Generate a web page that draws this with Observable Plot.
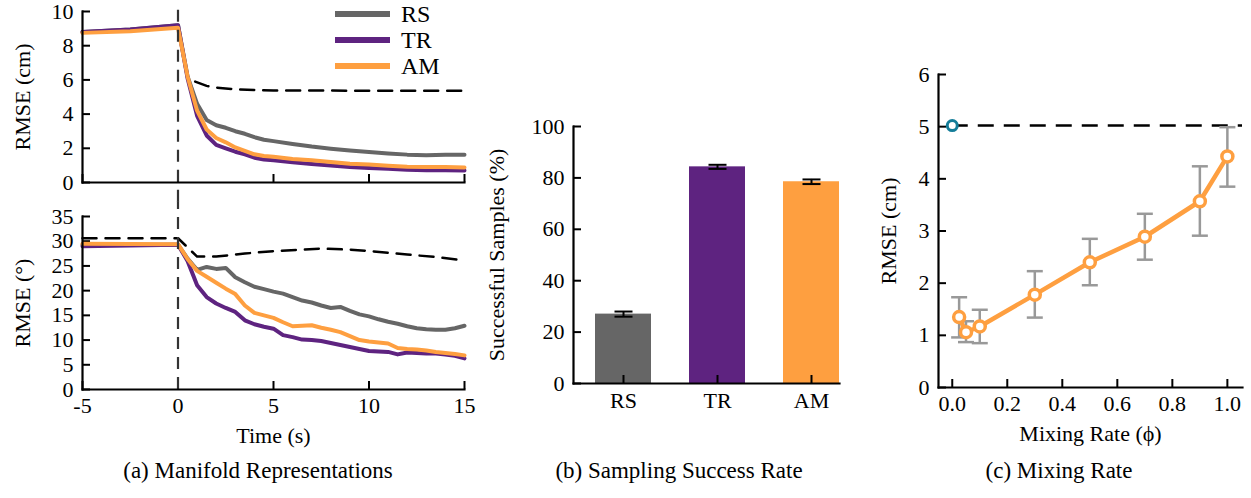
<!DOCTYPE html>
<html><head><meta charset="utf-8">
<script src="https://cdn.jsdelivr.net/npm/d3@7"></script>
<script src="https://cdn.jsdelivr.net/npm/@observablehq/plot@0.6"></script>
<style>
body{margin:0;background:#fff;}
#root{position:relative;width:1251px;height:498px;overflow:hidden;font-family:"Liberation Serif","Times New Roman","DejaVu Serif",serif;color:#000;}
.p{position:absolute;}
.p svg{overflow:visible;}
.p svg text, .p svg{font-family:"Liberation Serif","Times New Roman","DejaVu Serif",serif !important;}
.cap{position:absolute;font-size:23px;line-height:1;transform:translate(-50%,-50%);white-space:nowrap;top:470px;}
.lg{position:absolute;height:6px;width:55px;left:335px;}
.lt{position:absolute;left:401px;font-size:24px;line-height:1;transform:translateY(-50%);}
</style></head><body><div id="root"></div>
<script>
// ---------- Panel (a): manifold representations ----------
const seriesNames = ["RS", "TR", "AM"];
const seriesColors = ["#666666", "#5e2380", "#fe9f40"];

const timeTop = [-5, -2.5, 0, 0.5, 1, 1.5, 2, 2.5, 3, 3.5, 4, 4.5, 5, 6, 7, 8, 9, 10, 11, 12, 13, 14, 15];
const rsTop = [8.8, 8.95, 9.2, 6.2, 4.6, 3.65, 3.35, 3.2, 3.0, 2.85, 2.65, 2.5, 2.42, 2.25, 2.1, 1.98, 1.87, 1.78, 1.7, 1.63, 1.6, 1.62, 1.62];
const trTop = [8.8, 8.95, 9.2, 6.1, 3.9, 2.75, 2.2, 2.0, 1.8, 1.65, 1.45, 1.35, 1.3, 1.18, 1.08, 1.0, 0.9, 0.85, 0.8, 0.74, 0.72, 0.72, 0.7];
const amTop = [8.75, 8.85, 9.05, 6.2, 4.2, 3.1, 2.6, 2.35, 2.05, 1.85, 1.65, 1.55, 1.5, 1.38, 1.3, 1.2, 1.1, 1.05, 0.98, 0.92, 0.9, 0.9, 0.88];
const baseTopTime = [0.9, 1.5, 2, 3, 5, 10, 15];
const baseTopVal = [5.9, 5.65, 5.55, 5.45, 5.38, 5.37, 5.37];

const timeBot = [-5, 0, 0.5, 1, 1.5, 2, 2.5, 3, 3.5, 4, 4.5, 5, 5.5, 6, 6.5, 7, 7.5, 8, 8.5, 9, 9.5, 10, 10.5, 11, 11.5, 12, 12.5, 13, 13.5, 14, 14.5, 15];
const rsBot = [29.3, 29.3, 26.5, 24.2, 24.8, 24.4, 24.6, 22.7, 21.7, 20.8, 20.3, 19.8, 19.4, 18.7, 18.0, 17.6, 17.0, 16.5, 16.7, 15.9, 15.2, 14.8, 14.2, 13.7, 13.3, 12.8, 12.4, 12.2, 12.1, 12.1, 12.4, 12.9];
const trBot = [29.0, 29.3, 26.0, 21.1, 18.7, 17.4, 16.5, 15.7, 14.0, 13.2, 12.7, 12.3, 11.0, 10.6, 10.1, 10.0, 9.8, 9.4, 9.0, 8.6, 8.2, 7.8, 7.7, 7.6, 7.1, 7.5, 7.4, 7.3, 7.3, 7.1, 6.8, 6.3];
const amBot = [29.5, 29.4, 26.4, 24.0, 22.8, 21.6, 20.4, 19.3, 17.0, 15.5, 15.0, 14.5, 13.6, 12.8, 12.9, 13.0, 12.5, 12.1, 11.6, 10.8, 10.0, 9.7, 9.5, 9.3, 8.4, 8.2, 8.1, 7.9, 7.6, 7.4, 7.2, 6.9];
const baseBotTime = [-5, 0, 1, 2, 3.5, 5, 6.5, 7.5, 9, 10, 12, 13.5, 15];
const baseBotVal = [30.6, 30.6, 26.9, 26.9, 27.5, 28.0, 28.3, 28.5, 28.3, 28.0, 27.3, 26.8, 26.1];

const xTicksA = [-5, 0, 5, 10, 15];
const yTicksTop = [0, 2, 4, 6, 8, 10];
const yTicksBot = [0, 5, 10, 15, 20, 25, 30, 35];
const switchTime = [0];

// ---------- Panel (b): sampling success rate ----------
const methods = ["RS", "TR", "AM"];
const successPct = [27.0, 84.3, 78.5];
const successErr = [1.0, 0.8, 0.9];
const yTicksB = [0, 20, 40, 60, 80, 100];

// ---------- Panel (c): mixing rate ----------
const mixPhi = [0.025, 0.05, 0.1, 0.3, 0.5, 0.7, 0.9, 1.0];
const mixRmse = [1.35, 1.06, 1.17, 1.78, 2.40, 2.89, 3.57, 4.43];
const mixLo = [0.96, 0.87, 0.85, 1.34, 1.96, 2.45, 2.91, 3.85];
const mixHi = [1.73, 1.27, 1.49, 2.23, 2.85, 3.33, 4.24, 4.99];
const basePhi = [0];
const baseRmse = [5.02];
const xTicksC = [0, 0.2, 0.4, 0.6, 0.8, 1.0];
const yTicksC = [0, 1, 2, 3, 4, 5, 6];

// ---------- helpers ----------
const FONT = "'Liberation Serif', 'Times New Roman', 'DejaVu Serif', serif";
const root = document.getElementById("root");
function place(svg, left, top) {
  const d = document.createElement("div");
  d.className = "p"; d.style.left = left + "px"; d.style.top = top + "px";
  d.appendChild(svg); root.appendChild(d);
}
const baseStyle = {fontFamily: FONT, fontSize: "22px", background: "transparent", color: "#000", overflow: "visible"};
const capSymbol = {draw(ctx, size) { const w = Math.sqrt(size / Math.PI); ctx.moveTo(-w, 0); ctx.lineTo(w, 0); }};
const fmtPlain = d => String(d);

function yAxes(ticks, opts = {}) {
  return [
    Plot.axisY({ticks, tickSize: 0, tickPadding: 9, tickFormat: opts.fmt || fmtPlain, label: opts.label ?? null, labelArrow: "none", labelAnchor: "center", labelOffset: opts.labelOffset || 50}),
    Plot.axisY({ticks, tickSize: 8, dx: 8, strokeWidth: 2, tickFormat: () => "", label: null})
  ];
}
function xTickMarks(ticks) {
  return Plot.axisX({ticks, tickSize: 8, dy: -8, strokeWidth: 2, tickFormat: () => "", label: null});
}
function tableOf(t, v) { return t.map((x, i) => ({t: x, v: v[i]})); }

// ---------- Panel (a) top ----------
const topSeries = [rsTop, trTop, amTop];
place(Plot.plot({
  width: 480, height: 200, marginLeft: 82, marginRight: 16, marginTop: 11, marginBottom: 18,
  style: baseStyle,
  x: {domain: [-5, 15]},
  y: {domain: [0, 10]},
  marks: [
    ...yAxes(yTicksTop, {label: "RMSE (cm)", labelOffset: 68}),
    xTickMarks(xTicksA),
    Plot.axisX({ticks: [], label: null}),
    ...topSeries.map((s, k) => Plot.line(tableOf(timeTop, s), {x: "t", y: "v", stroke: seriesColors[k], strokeWidth: 4})),
    Plot.line(tableOf(baseTopTime, baseTopVal), {x: "t", y: "v", stroke: "#000", strokeWidth: 2.5, strokeDasharray: "14,9"}),
    Plot.ruleX(switchTime, {y1: -1.15, y2: 10.4, stroke: "#333", strokeWidth: 2.2, strokeDasharray: "12,8"}),
    Plot.frame({anchor: "left", strokeWidth: 2.2}),
    Plot.frame({anchor: "bottom", strokeWidth: 2.2})
  ]
}), 0, 0);

// ---------- Panel (a) bottom ----------
const botSeries = [rsBot, trBot, amBot];
place(Plot.plot({
  width: 480, height: 260, marginLeft: 82, marginRight: 16, marginTop: 16, marginBottom: 71,
  style: baseStyle,
  x: {domain: [-5, 15]},
  y: {domain: [0, 35]},
  marks: [
    ...yAxes(yTicksBot, {label: "RMSE (°)", labelOffset: 68}),
    xTickMarks(xTicksA),
    Plot.axisX({ticks: xTicksA, tickSize: 0, tickPadding: 8, tickFormat: fmtPlain, label: "Time (s)", labelArrow: "none", labelAnchor: "center", labelOffset: 53}),
    ...botSeries.map((s, k) => Plot.line(tableOf(timeBot, s), {x: "t", y: "v", stroke: seriesColors[k], strokeWidth: 4})),
    Plot.line(tableOf(baseBotTime, baseBotVal), {x: "t", y: "v", stroke: "#000", strokeWidth: 2.5, strokeDasharray: "14,9"}),
    Plot.ruleX(switchTime, {y1: 0, y2: 38, stroke: "#333", strokeWidth: 2.2, strokeDasharray: "12,8"}),
    Plot.frame({anchor: "left", strokeWidth: 2.2}),
    Plot.frame({anchor: "bottom", strokeWidth: 2.2})
  ]
}), 0, 200);

// legend (a)
seriesNames.forEach((n, k) => {
  const yc = [14, 40, 66][k];
  const l = document.createElement("div"); l.className = "lg";
  l.style.top = (yc - 3) + "px"; l.style.background = seriesColors[k]; root.appendChild(l);
  const t = document.createElement("div"); t.className = "lt"; t.style.top = yc + "px"; t.textContent = n; root.appendChild(t);
});

// ---------- Panel (b) ----------
const bData = methods.map((m, i) => ({m, v: successPct[i], lo: successPct[i] - successErr[i], hi: successPct[i] + successErr[i]}));
place(Plot.plot({
  width: 360, height: 360, marginLeft: 93, marginRight: 1, marginTop: 26, marginBottom: 77,
  style: baseStyle,
  x: {domain: methods, paddingInner: 0.4, paddingOuter: 0.106, align: 1},
  y: {domain: [0, 100]},
  color: {domain: methods, range: seriesColors},
  marks: [
    ...yAxes(yTicksB, {label: "Successful Samples (%)", labelOffset: 85}),
    Plot.barY(bData, {x: "m", y: "v", fill: "m"}),
    xTickMarks(methods),
    Plot.axisX({tickSize: 0, tickPadding: 9, label: null}),
    Plot.ruleX(bData, {x: "m", y1: "lo", y2: "hi", stroke: "#000", strokeWidth: 2}),
    Plot.dot(bData, {x: "m", y: "lo", symbol: capSymbol, r: 9, stroke: "#000", strokeWidth: 2}),
    Plot.dot(bData, {x: "m", y: "hi", symbol: capSymbol, r: 9, stroke: "#000", strokeWidth: 2}),
    Plot.frame({anchor: "left", strokeWidth: 2.2}),
    Plot.frame({anchor: "bottom", strokeWidth: 2.2})
  ]
}), 480, 100);

// ---------- Panel (c) ----------
const cData = mixPhi.map((p, i) => ({p, v: mixRmse[i], lo: mixLo[i], hi: mixHi[i]}));
const baseData = basePhi.map((p, i) => ({p, v: baseRmse[i]}));
place(Plot.plot({
  width: 391, height: 410, marginLeft: 78, marginRight: 9, marginTop: 24, marginBottom: 73,
  style: baseStyle,
  x: {domain: [-0.05, 1.055]},
  y: {domain: [0, 6]},
  marks: [
    ...yAxes(yTicksC, {label: "RMSE (cm)", labelOffset: 58}),
    xTickMarks(xTicksC),
    Plot.axisX({ticks: xTicksC, tickSize: 0, tickPadding: 8, tickFormat: d3.format(".1f"), label: "Mixing Rate (ϕ)", labelArrow: "none", labelAnchor: "center", labelOffset: 53}),
    Plot.ruleY(baseData, {y: "v", x1: "p", x2: 1.055, stroke: "#000", strokeWidth: 2.5, strokeDasharray: "16,10"}),
    Plot.ruleX(cData, {x: "p", y1: "lo", y2: "hi", stroke: "#999", strokeWidth: 2.5}),
    Plot.dot(cData, {x: "p", y: "lo", symbol: capSymbol, r: 8, stroke: "#999", strokeWidth: 2.5}),
    Plot.dot(cData, {x: "p", y: "hi", symbol: capSymbol, r: 8, stroke: "#999", strokeWidth: 2.5}),
    Plot.line(cData, {x: "p", y: "v", stroke: "#fe9f40", strokeWidth: 4.5}),
    Plot.dot(cData, {x: "p", y: "v", r: 5.5, fill: "#fff", stroke: "#fe9f40", strokeWidth: 3.5}),
    Plot.dot(baseData, {x: "p", y: "v", r: 5, fill: "#fff", stroke: "#147d99", strokeWidth: 3}),
    Plot.frame({anchor: "left", strokeWidth: 2.2}),
    Plot.frame({anchor: "bottom", strokeWidth: 2.2})
  ]
}), 860, 50);

// captions
[["(a) Manifold Representations", 258], ["(b) Sampling Success Rate", 679], ["(c) Mixing Rate", 1059]].forEach(([txt, x]) => {
  const c = document.createElement("div"); c.className = "cap"; c.style.left = x + "px"; c.textContent = txt; root.appendChild(c);
});
</script></body></html>
